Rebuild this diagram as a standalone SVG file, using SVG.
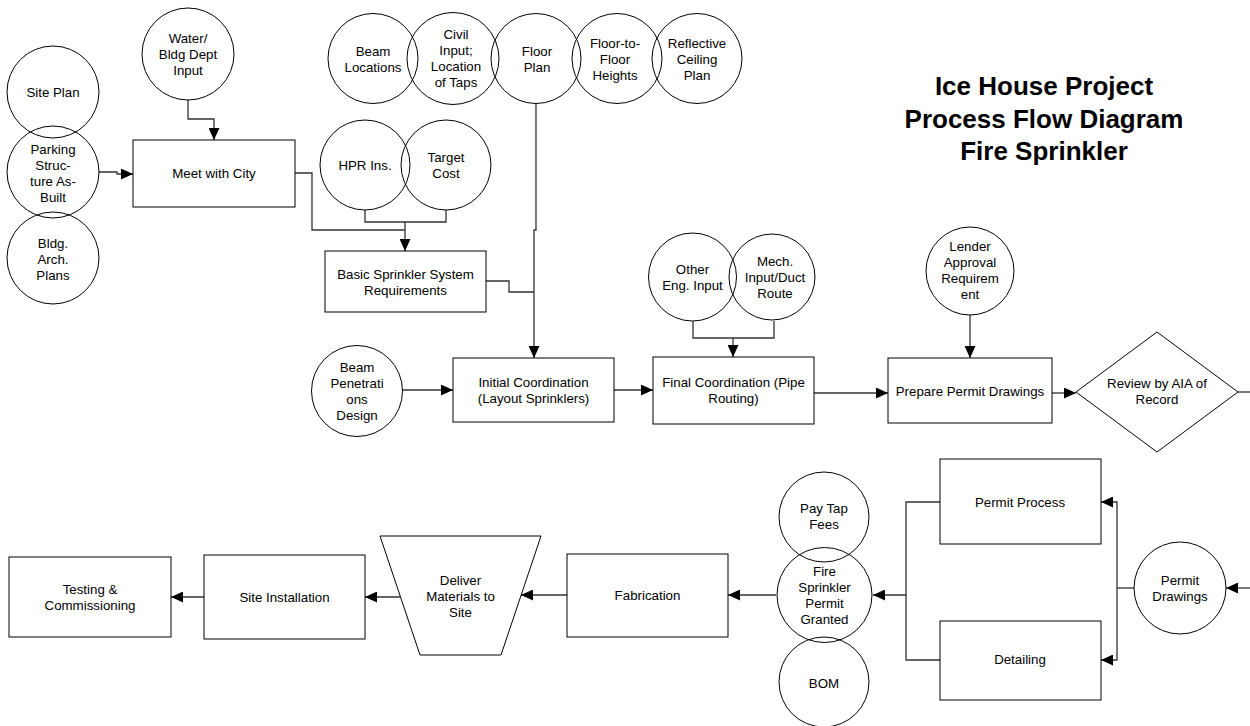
<svg xmlns="http://www.w3.org/2000/svg" width="1250" height="726" viewBox="0 0 1250 726">
<defs>
<marker id="arr" markerUnits="userSpaceOnUse" markerWidth="12" markerHeight="11" refX="12" refY="5.5" orient="auto">
<path d="M0,0 L12,5.5 L0,11 z" fill="#000"/>
</marker>
<style>
.s{fill:none;stroke:#000;stroke-width:1}
.c{fill:none;stroke:#333;stroke-width:1.3}
.a{marker-end:url(#arr)}
text{font-family:"Liberation Sans",Arial,sans-serif;font-size:13.3px;fill:#000;text-anchor:middle}
.t{font-size:26px;font-weight:bold}
</style>
</defs>
<rect width="1250" height="726" fill="#fff"/>
<g id="title">
<text class="t" x="1044" y="95">Ice House Project</text>
<text class="t" x="1044" y="127.5">Process Flow Diagram</text>
<text class="t" x="1044" y="160">Fire Sprinkler</text>
</g>
<g id="connectors">
<path class="c a" d="M188,100 V119 H214 V140"/>
<path class="c a" d="M99,172 H117 V174 H133"/>
<path class="c" d="M295,173 H312 V230 H405"/>
<path class="c" d="M365,210 V222 H446 V210"/>
<path class="c a" d="M405,222 V251"/>
<path class="c a" d="M536,104 V230 H534 V358"/>
<path class="c" d="M486,281 H509 V292 H534"/>
<path class="c a" d="M403,390 H453"/>
<path class="c a" d="M614,390 H653"/>
<path class="c" d="M693,321 V338 H774 V321"/>
<path class="c a" d="M733,338 V357"/>
<path class="c a" d="M814,393 H888"/>
<path class="c a" d="M970,315 V358"/>
<path class="c a" d="M1052,393 H1076"/>
<path class="c" d="M1238,392 H1250"/>
<path class="c a" d="M1250,588 H1226"/>
<path class="c" d="M1134,588 H1117"/>
<path class="c a" d="M1117,588 V502 H1101"/>
<path class="c a" d="M1117,588 V660 H1101"/>
<path class="c" d="M940,502 H906 V660 H940"/>
<path class="c a" d="M906,595 H873"/>
<path class="c a" d="M776,595 H728"/>
<path class="c a" d="M567,595 H521"/>
<path class="c a" d="M400,597 H365"/>
<path class="c a" d="M204,597 H171"/>
</g>
<g id="site-plan"><circle class="s" cx="53" cy="92" r="46"/><text x="53" y="97">Site Plan</text></g>
<g id="parking"><circle class="s" cx="53" cy="172" r="46"/><text x="53" y="154">Parking</text><text x="53" y="170">Struc-</text><text x="53" y="186">ture As-</text><text x="53" y="202">Built</text></g>
<g id="bldg-arch"><circle class="s" cx="53" cy="258" r="46"/><text x="53" y="247.5">Bldg.</text><text x="53" y="263.5">Arch.</text><text x="53" y="279.5">Plans</text></g>
<g id="water"><circle class="s" cx="188" cy="54" r="46"/><text x="188" y="43">Water/</text><text x="188" y="59">Bldg Dept</text><text x="188" y="75">Input</text></g>
<g id="meet-city"><rect class="s" x="133" y="140" width="162" height="67"/><text x="214" y="178">Meet with City</text></g>
<g id="beam-loc"><circle class="s" cx="373" cy="58.5" r="45"/><text x="373" y="56">Beam</text><text x="373" y="72">Locations</text></g>
<g id="civil"><circle class="s" cx="453" cy="58.5" r="46"/><text x="456" y="39">Civil</text><text x="456" y="55">Input;</text><text x="456" y="71">Location</text><text x="456" y="87">of Taps</text></g>
<g id="floor-plan"><circle class="s" cx="536" cy="58.5" r="45"/><text x="537" y="56">Floor</text><text x="537" y="72">Plan</text></g>
<g id="floor-to-floor"><circle class="s" cx="617" cy="58.5" r="45"/><text x="615" y="48">Floor-to-</text><text x="615" y="64">Floor</text><text x="615" y="80">Heights</text></g>
<g id="reflective"><circle class="s" cx="697" cy="58.5" r="45"/><text x="697" y="48">Reflective</text><text x="697" y="64">Ceiling</text><text x="697" y="80">Plan</text></g>
<g id="hpr"><circle class="s" cx="365" cy="165" r="45"/><text x="365" y="170">HPR Ins.</text></g>
<g id="target"><circle class="s" cx="446" cy="165" r="45"/><text x="446" y="162">Target</text><text x="446" y="178">Cost</text></g>
<g id="basic"><rect class="s" x="325" y="251" width="161" height="61"/><text x="405.5" y="278.5">Basic Sprinkler System</text><text x="405.5" y="294.5">Requirements</text></g>
<g id="beam-pen"><circle class="s" cx="357" cy="391" r="45.5"/><text x="357" y="372">Beam</text><text x="357" y="388">Penetrati</text><text x="357" y="404">ons</text><text x="357" y="420">Design</text></g>
<g id="initial"><rect class="s" x="453" y="358" width="161" height="64"/><text x="533.5" y="387">Initial Coordination</text><text x="533.5" y="403">(Layout Sprinklers)</text></g>
<g id="other-eng"><circle class="s" cx="692.5" cy="277" r="44"/><text x="692.5" y="274">Other</text><text x="692.5" y="290">Eng. Input</text></g>
<g id="mech"><circle class="s" cx="772" cy="277" r="43"/><text x="775" y="266">Mech.</text><text x="775" y="282">Input/Duct</text><text x="775" y="298">Route</text></g>
<g id="final"><rect class="s" x="653" y="357" width="161" height="67"/><text x="733.5" y="387">Final Coordination (Pipe</text><text x="733.5" y="403">Routing)</text></g>
<g id="lender"><circle class="s" cx="970" cy="271" r="44"/><text x="970" y="251">Lender</text><text x="970" y="267">Approval</text><text x="970" y="283">Requirem</text><text x="970" y="299">ent</text></g>
<g id="prepare"><rect class="s" x="888" y="358" width="164" height="65"/><text x="970" y="396">Prepare Permit Drawings</text></g>
<g id="review"><polygon class="s" points="1076,392 1157,332 1238,392 1157,452"/><text x="1157" y="388">Review by AIA of</text><text x="1157" y="404">Record</text></g>
<g id="permit-drawings"><circle class="s" cx="1180" cy="588" r="46"/><text x="1180" y="585">Permit</text><text x="1180" y="601">Drawings</text></g>
<g id="permit-process"><rect class="s" x="940" y="459" width="161" height="85"/><text x="1020" y="507">Permit Process</text></g>
<g id="detailing"><rect class="s" x="940" y="621" width="161" height="79"/><text x="1020" y="664">Detailing</text></g>
<g id="pay-tap"><circle class="s" cx="824" cy="517" r="45"/><text x="824" y="513">Pay Tap</text><text x="824" y="529">Fees</text></g>
<g id="bom"><circle class="s" cx="824" cy="682" r="45"/><text x="824" y="688">BOM</text></g>
<g id="fire-permit"><circle class="s" cx="824.5" cy="595" r="47.5"/><text x="824.5" y="576">Fire</text><text x="824.5" y="592">Sprinkler</text><text x="824.5" y="608">Permit</text><text x="824.5" y="624">Granted</text></g>
<g id="fabrication"><rect class="s" x="567" y="554" width="161" height="83"/><text x="647.5" y="600">Fabrication</text></g>
<g id="deliver"><polygon class="s" points="380,536 541,536 501,655 420,655"/><text x="460.5" y="585">Deliver</text><text x="460.5" y="601">Materials to</text><text x="460.5" y="617">Site</text></g>
<g id="site-install"><rect class="s" x="204" y="555" width="161" height="84"/><text x="284.5" y="602">Site Installation</text></g>
<g id="testing"><rect class="s" x="9" y="557" width="162" height="80"/><text x="90" y="594">Testing &amp;</text><text x="90" y="610">Commissioning</text></g>
</svg>
